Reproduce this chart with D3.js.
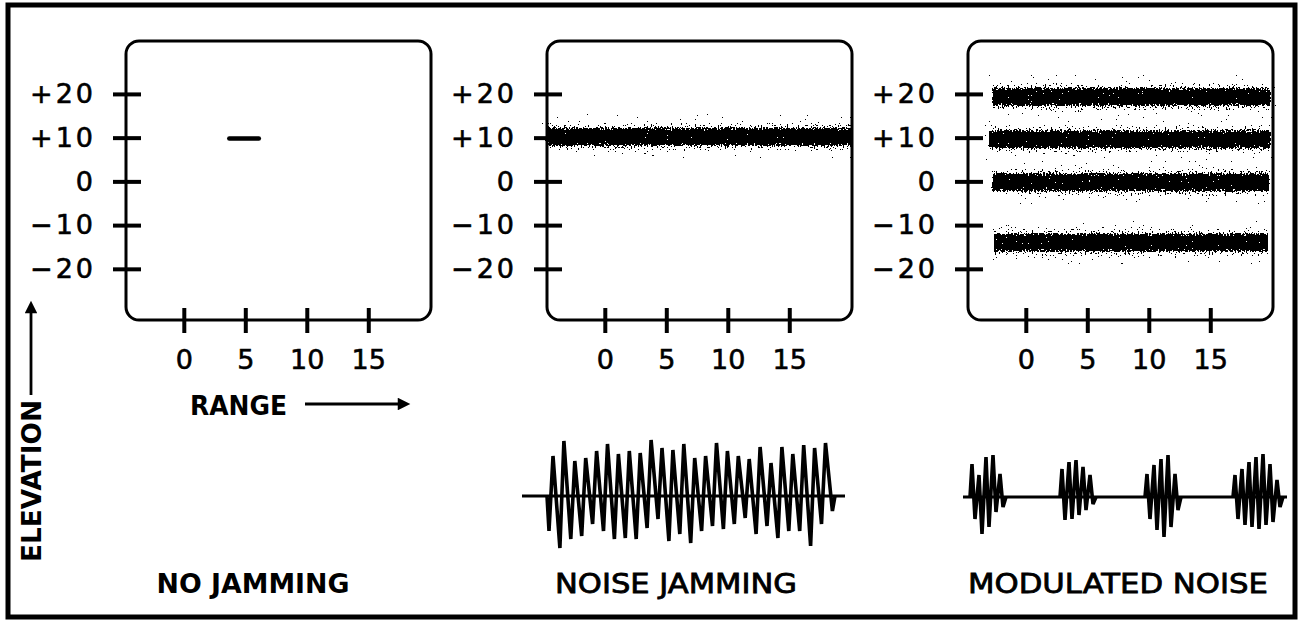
<!DOCTYPE html>
<html>
<head>
<meta charset="utf-8">
<script src="https://cdn.jsdelivr.net/npm/d3@7"></script>
<style>
  body { margin: 0; background: #fff; }
  svg text { font-family: "DejaVu Sans", sans-serif; fill: #000; }
</style>
</head>
<body>
<svg id="chart" width="1300" height="623"></svg>
<script>
// panel titles
var panelNames = ["NO JAMMING", "NOISE JAMMING", "MODULATED NOISE"];

// axis ticks
var elevTicks = [20, 10, 0, -10, -20];
var elevLabels = ["+20", "+10", "0", "\u221210", "\u221220"];
var rangeTicks = [0, 5, 10, 15];

// echoes seen on each scope (range from/to, elevation)
var targetEcho = [{r0: 3.7, r1: 6.1, elev: 9.8}];
var jamBand = [{r0: -4.6, r1: 20.1, elev: 10.2}];
var modBands = [
  {r0: -2.7, r1: 19.9, elev: 19.3},
  {r0: -3.0, r1: 19.9, elev: 9.6},
  {r0: -2.7, r1: 19.8, elev: -0.2},
  {r0: -2.6, r1: 19.7, elev: -14.0}
];

// noise jamming waveform: alternating trough / peak amplitudes
var jamPeaks = [40, 55, 35, 38, 45, 52, 42, 45, 43, 56, 48, 46, 52, 38, 40, 53, 45, 40, 37, 49, 33, 49, 42, 51, 48, 53];
var jamTroughs = [35, 52, 43, 40, 28, 35, 43, 42, 43, 32, 23, 45, 38, 47, 35, 30, 33, 28, 22, 38, 30, 42, 35, 35, 50, 28, 15];

// modulated noise: burst start times and spike amplitudes
var burstStart = [7, 97, 182, 270];
var burstPeaks = [[33, 22, 40, 42, 23], [28, 35, 37, 30, 22], [23, 32, 38, 42, 23], [22, 28, 35, 40, 43, 33, 17]];
var burstTroughs = [[22, 37, 30, 15, 10], [23, 22, 18, 13, 7], [22, 33, 40, 30, 13], [22, 28, 30, 32, 28, 25, 10]];

// layout
var panelX = [126, 547, 968];
var panelTop = 41;
var pw = 305, ph = 279;

var svg = d3.select("#chart");

// speckle filter for the jamming strobes
var defs = svg.append("defs");
var grad = defs.append("linearGradient")
    .attr("id", "bandGrad")
    .attr("x1", 0).attr("y1", 0).attr("x2", 0).attr("y2", 1);
[[0, 0], [0.18, 0.3], [0.27, 0.8], [0.33, 1], [0.67, 1], [0.73, 0.8], [0.82, 0.3], [1, 0]].forEach(function(s) {
  grad.append("stop").attr("offset", s[0]).attr("stop-color", "#000").attr("stop-opacity", s[1]);
});

var filt = defs.append("filter")
    .attr("id", "speckle")
    .attr("x", "-2%").attr("y", "-20%").attr("width", "104%").attr("height", "140%")
    .attr("color-interpolation-filters", "sRGB");
filt.append("feTurbulence")
    .attr("type", "fractalNoise")
    .attr("baseFrequency", "0.7 0.5")
    .attr("numOctaves", 2)
    .attr("seed", 3)
    .attr("result", "noise");
filt.append("feColorMatrix")
    .attr("in", "noise")
    .attr("type", "matrix")
    .attr("values", "0 0 0 0 0  0 0 0 0 0  0 0 0 0 0  1 0 0 0 0")
    .attr("result", "n");
filt.append("feComposite")
    .attr("in", "SourceGraphic").attr("in2", "n")
    .attr("operator", "arithmetic")
    .attr("k1", 0).attr("k2", 1).attr("k3", 1.8).attr("k4", -0.9)
    .attr("result", "mix");
var ct = filt.append("feComponentTransfer").attr("in", "mix");
ct.append("feFuncA").attr("type", "discrete").attr("tableValues", "0 1");

// outer frame
svg.append("rect")
    .attr("x", 8).attr("y", 5)
    .attr("width", 1287).attr("height", 612)
    .style("fill", "none")
    .style("stroke", "#000")
    .style("stroke-width", 5);

var x = d3.scaleLinear().domain([-4.7, 20.1]).range([0, pw]);
var y = d3.scaleLinear().domain([-31.7, 32.1]).range([ph, 0]);

var echoes = [targetEcho, jamBand, modBands];

panelNames.forEach(function(name, i) {
  var g = svg.append("g")
      .attr("transform", "translate(" + panelX[i] + "," + panelTop + ")");

  // strobes
  if (i > 0) {
    g.selectAll(".band")
      .data(echoes[i])
      .enter().append("rect")
        .attr("class", "band")
        .attr("x", function(d) { return x(d.r0); })
        .attr("width", function(d) { return x(d.r1) - x(d.r0); })
        .attr("y", function(d) { return y(d.elev + 3.6); })
        .attr("height", function(d) { return y(d.elev - 3.6) - y(d.elev + 3.6); })
        .style("fill", "url(#bandGrad)")
        .attr("filter", "url(#speckle)");
  } else {
    g.selectAll(".echo")
      .data(echoes[i])
      .enter().append("line")
        .attr("class", "echo")
        .attr("x1", function(d) { return x(d.r0); })
        .attr("x2", function(d) { return x(d.r1); })
        .attr("y1", function(d) { return y(d.elev); })
        .attr("y2", function(d) { return y(d.elev); })
        .style("stroke", "#000")
        .style("stroke-width", 4.5)
        .style("stroke-linecap", "round");
  }

  // scope face
  g.append("rect")
      .attr("width", pw).attr("height", ph)
      .attr("rx", 13).attr("ry", 13)
      .style("fill", "none")
      .style("stroke", "#000")
      .style("stroke-width", 3);

  var yAxis = d3.axisLeft(y)
      .tickValues(elevTicks)
      .tickSize(28)
      .tickPadding(17)
      .tickFormat(function(d, k) { return elevLabels[k]; });

  var ya = g.append("g")
      .attr("transform", "translate(15,0)")
      .call(yAxis);

  var xAxis = d3.axisBottom(x)
      .tickValues(rangeTicks)
      .tickSize(25)
      .tickPadding(17);

  var xa = g.append("g")
      .attr("transform", "translate(0," + (ph - 12) + ")")
      .call(xAxis);

  [ya, xa].forEach(function(a) {
    a.select(".domain").remove();
    a.selectAll(".tick line").style("stroke", "#000").style("stroke-width", 4);
    a.selectAll(".tick text")
      .style("font-family", "'DejaVu Sans', sans-serif")
      .style("font-size", "27px")
      .style("fill", "#000")
      .style("stroke", "#000")
      .style("stroke-width", 0.6);
  });
  ya.selectAll(".tick text").style("letter-spacing", "3px");

  // panel title
  svg.append("text")
      .attr("x", [253, 676, 1118][i])
      .attr("y", 593)
      .attr("text-anchor", "middle")
      .attr("textLength", [193, 242, 300][i])
      .attr("lengthAdjust", "spacingAndGlyphs")
      .style("font-size", "27px")
      .style("font-weight", i === 0 ? "bold" : "normal")
      .style("stroke", i === 0 ? "none" : "#000")
      .style("stroke-width", 0.8)
      .text(name);
});

// axis captions with arrows
defs.append("marker")
    .attr("id", "head")
    .attr("viewBox", "0 0 10 10")
    .attr("refX", 1).attr("refY", 5)
    .attr("markerWidth", 5.5).attr("markerHeight", 4.5)
    .attr("markerUnits", "strokeWidth")
    .attr("orient", "auto")
  .append("path")
    .attr("d", "M0,0L10,5L0,10Z")
    .style("fill", "#000");

svg.append("text")
    .attr("x", 190).attr("y", 415)
    .attr("textLength", 97)
    .attr("lengthAdjust", "spacingAndGlyphs")
    .style("font-size", "27px")
    .style("font-weight", "bold")
    .text("RANGE");

svg.append("line")
    .attr("x1", 305).attr("y1", 404)
    .attr("x2", 399).attr("y2", 404)
    .style("stroke", "#000")
    .style("stroke-width", 2.8)
    .attr("marker-end", "url(#head)");

svg.append("text")
    .attr("transform", "translate(31,481) rotate(-90)")
    .attr("text-anchor", "middle")
    .attr("dy", "0.36em")
    .attr("textLength", 162)
    .attr("lengthAdjust", "spacingAndGlyphs")
    .style("font-size", "27px")
    .style("font-weight", "bold")
    .text("ELEVATION");

svg.append("line")
    .attr("x1", 31).attr("y1", 395)
    .attr("x2", 31).attr("y2", 312)
    .style("stroke", "#000")
    .style("stroke-width", 2.8)
    .attr("marker-end", "url(#head)");

// video waveforms
var wy = d3.scaleLinear().domain([-60, 60]).range([556, 436]);
var wave = d3.line()
    .x(function(d) { return d[0]; })
    .y(function(d) { return wy(d[1]); });

function strokeIt(sel, w) {
  return sel.style("fill", "none")
    .style("stroke", "#000")
    .style("stroke-width", w)
    .style("stroke-linejoin", "miter")
    .style("stroke-miterlimit", 3);
}

// noise jamming
var jx = d3.scaleLinear().domain([0, 323]).range([522, 845]);
var jamPts = [[jx(25), 0]];
jamTroughs.forEach(function(t, k) {
  jamPts.push([jx(27 + k * 10.9), -t]);
  if (k < jamPeaks.length) jamPts.push([jx(31 + k * 10.9), jamPeaks[k]]);
});
jamPts.push([jx(313), 0]);

strokeIt(svg.append("path").attr("d", wave([[jx(0), 0], [jx(323), 0]])), 3);
strokeIt(svg.append("path").attr("d", wave(jamPts)), 3.6);

// modulated noise
var mx = d3.scaleLinear().domain([0, 324]).range([963, 1287]);
var mody = d3.scaleLinear().domain([-60, 60]).range([557, 437]);
var modWave = d3.line()
    .x(function(d) { return mx(d[0]); })
    .y(function(d) { return mody(d[1]); });

strokeIt(svg.append("path").attr("d", modWave([[0, 0], [324, 0]])), 3);
burstStart.forEach(function(s, b) {
  var pts = [[s, 0]];
  burstPeaks[b].forEach(function(p, k) {
    pts.push([s + 2 + k * 7, p]);
    pts.push([s + 5 + k * 7, -burstTroughs[b][k]]);
  });
  pts.push([s + 7 * burstPeaks[b].length + 1, 0]);
  strokeIt(svg.append("path").attr("d", modWave(pts)), 3.6);
});
</script>
</body>
</html>
